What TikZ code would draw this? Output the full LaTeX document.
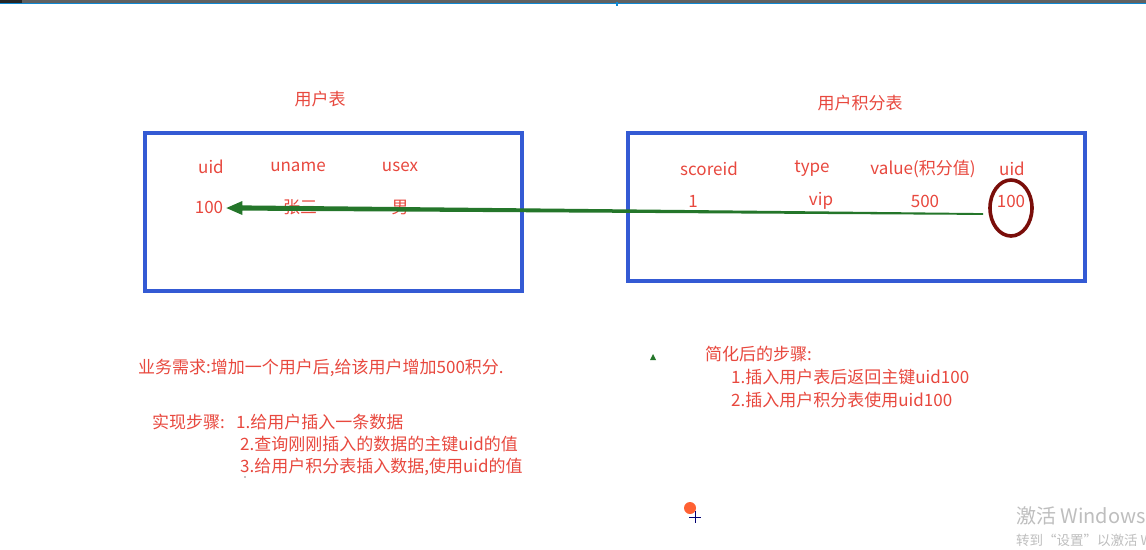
\documentclass[tikz,border=0pt]{standalone}
\usepackage{fontspec}
\setmainfont{Noto Sans CJK SC}
\usetikzlibrary{calc,shapes.geometric}
\definecolor{tred}{RGB}{232,72,62}
\definecolor{tblue}{RGB}{52,90,212}
\definecolor{tgreen}{RGB}{36,118,42}
\definecolor{tdred}{RGB}{122,14,10}
\definecolor{wm}{RGB}{190,190,190}
\begin{document}
\begin{tikzpicture}[x=1pt,y=-1pt,
  txt/.style={text=tred,font=\fontsize{17}{19}\selectfont,inner sep=0pt},
  ltxt/.style={txt,anchor=west},
  tbox/.style={draw=tblue,line width=4pt,inner sep=0pt,rectangle},
  wmtxt/.style={text=wm,inner sep=0pt,anchor=west}]
\useasboundingbox (0,0) rectangle (1146,549);
\fill[white] (0,0) rectangle (1146,549);
% top screen bar
\fill[black!62] (0,0) rectangle (1146,3);
\fill[black!85] (0,0) rectangle (22,3);
\draw[cyan!70!blue,line width=1pt] (0,3.5) -- (1146,3.5);
\fill[cyan!70!blue] (616,2) rectangle (618,6);

% titles
\node[txt] (t1) at (320,99) {用户表};
\node[txt] (t2) at (860,103) {用户积分表};

% boxes
\node[tbox,minimum width=377pt,minimum height=158pt] (ubox) at (333.5,212) {};
\node[tbox,minimum width=457pt,minimum height=148pt] (sbox) at (856.5,207) {};

% user table
\node[txt] (h1) at (211,167) {uid};
\node[txt] (h2) at (298,167) {uname};
\node[txt] (h3) at (400,167) {usex};
\node[txt] (u100) at (209,207) {100};
\node[txt] (uname) at (300,207) {张三};
\node[txt] (usex) at (400,207) {男};

% score table
\node[txt] (s1) at (709,169) {scoreid};
\node[txt] (s2) at (812,169) {type};
\node[txt] (s3) at (923,169) {value(积分值)};
\node[txt] (s4) at (1012,169) {uid};
\node[txt] (r1) at (693,201) {1};
\node[txt] (r2) at (821,201) {vip};
\node[txt] (r3) at (925,201) {500};
\node[txt] (r4) at (1011,201) {100};
\node[draw=tdred,line width=3.6pt,ellipse,minimum width=42pt,minimum height=56pt,inner sep=0pt] (circ) at (1011,208) {};

% tapered green arrow
\coordinate (tip) at ($(u100.east)+(3,1)$);
\coordinate (tail) at ($(circ.west)+(-5,6)$);
\fill[tgreen] (tip) -- ($(tip)+(16,-7)$) -- ($(tip)+(16,-2.6)$) -- ($(tail)+(0,-0.9)$)
  -- ($(tail)+(0,0.9)$) -- ($(tip)+(16,2.6)$) -- ($(tip)+(16,7)$) -- cycle;

% requirement text
\node[ltxt] (req) at (138,368) {业务需求:增加一个用户后,给该用户增加500积分.};
\node[ltxt] (st0) at (152,422) {实现步骤:};
\node[ltxt] (st1) at (236,422) {1.给用户插入一条数据};
\node[ltxt] (st2) at (240,444) {2.查询刚刚插入的数据的主键uid的值};
\node[ltxt] (st3) at (240,467) {3.给用户积分表插入数据,使用uid的值};
\fill[black] (245,477) circle (0.6);

% simplified steps
\fill[tgreen] (650,360) -- (656,360) -- (653,354) -- cycle;
\node[ltxt] (sm0) at (705,354) {简化后的步骤:};
\node[ltxt] (sm1) at (731,377) {1.插入用户表后返回主键uid100};
\node[ltxt] (sm2) at (731,400) {2.插入用户积分表使用uid100};

% cursor marks
\fill[red!55!orange!80] (690,508) circle (6);
\draw[black!55!blue,line width=0.8pt] (689,517) -- (701,517) (695,511) -- (695,523);

% watermark
\node[wmtxt,font=\fontsize{20}{22}\selectfont] (wm1) at (1016,516) {激活 Windows};
\node[wmtxt,font=\fontsize{13.5}{15}\selectfont] (wm2) at (1016,540) {转到“设置”以激活 W};
\end{tikzpicture}
\end{document}
